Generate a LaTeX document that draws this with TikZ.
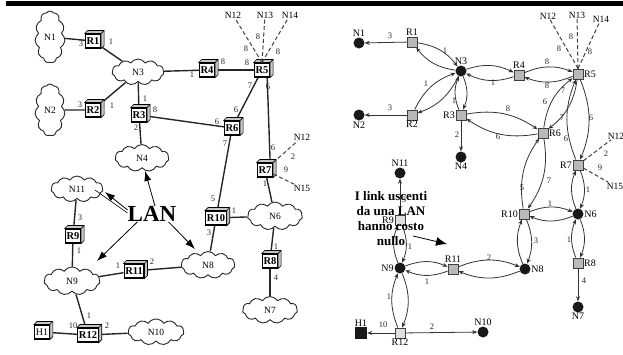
\documentclass[tikz,border=0pt]{standalone}
\usepackage{fontspec}
\setmainfont{Liberation Serif}
\usetikzlibrary{shapes.symbols,arrows.meta,calc,backgrounds}
\newcommand\cubeit[1]{%
  \draw[line width=0.6pt, fill=gray!45] (#1.north west) -- ++(3,-3) -- ($(#1.north east)+(3,-3)$) -- ($(#1.south east)+(3,-3)$) -- (#1.south east) -- (#1.north east) -- cycle;
  \draw[line width=0.6pt] (#1.north east) -- ++(3,-3);}
\newcommand\lb[3]{\node[lbl] (#1) at (#2) {#3};}
\begin{document}
\begin{tikzpicture}[x=1pt,y=-1pt,
  cl/.style={cloud, cloud puffs=11, cloud puff arc=115, cloud ignores aspect, draw=black!85, line width=0.9pt, fill=white, inner sep=0pt, font=\fontsize{9.5}{10}\selectfont},
  rt/.style={draw=black, line width=1.1pt, fill=white, font=\bfseries\fontsize{10.5}{11}\selectfont, inner sep=1.2pt, minimum height=14pt, minimum width=14pt},
  ln/.style={line width=1.4pt, draw=black!85},
  dl/.style={line width=1pt, draw=black!75, dash pattern=on 4pt off 2.5pt},
  lbl/.style={font=\fontsize{8.5}{9}\selectfont, inner sep=0pt, text=black!85},
  nl/.style={font=\fontsize{9.5}{10}\selectfont, inner sep=0.5pt},
  lanarr/.style={-{Latex[length=10pt,width=7pt]}, line width=0.8pt},
  dot/.style={circle, fill=black!90, minimum size=11pt, inner sep=0pt},
  sq/.style={rectangle, draw=black!75, fill=gray!55, minimum size=10pt, inner sep=0pt, line width=0.9pt},
  rl/.style={font=\fontsize{10}{10}\selectfont, inner sep=0.5pt},
  arr/.style={-{Stealth[length=5pt,width=4pt]}, line width=0.8pt, draw=black!80},
  bd/.style={arr, bend left=22},
]
\useasboundingbox (0,0) rectangle (623,354);
\fill (6,1) rectangle (623,6);

% ---------------- LEFT ----------------
\node[cl, minimum width=30pt, minimum height=52pt] (N1) at (50,37) {N1};
\node[cl, minimum width=30pt, minimum height=52pt] (N2) at (50,110) {N2};
\node[cl, minimum width=52pt, minimum height=26pt] (N3) at (138,72) {N3};
\node[cl, minimum width=54pt, minimum height=27pt] (N4) at (142,158) {N4};
\node[cl, minimum width=52pt, minimum height=26pt] (N11) at (77,189) {N11};
\node[cl, minimum width=56pt, minimum height=28pt] (N9) at (72,281) {N9};
\node[cl, minimum width=54pt, minimum height=27pt] (N8) at (208,265) {N8};
\node[cl, minimum width=55pt, minimum height=28pt] (N6) at (275,216) {N6};
\node[cl, minimum width=55pt, minimum height=27pt] (N7) at (270,310) {N7};
\node[cl, minimum width=56pt, minimum height=26pt] (N10) at (156,332) {N10};

\node[rt] (R1) at (93,41) {R1};
\node[rt] (R2) at (93,110) {R2};
\node[rt] (R3) at (139,115) {R3};
\node[rt] (R4) at (207,70) {R4};
\node[rt] (R5) at (262,70) {R5};
\node[rt] (R6) at (232,128) {R6};
\node[rt] (R7) at (265,170) {R7};
\node[rt] (R10) at (216,218) {R10};
\node[rt] (R8) at (270,261) {R8};
\node[rt] (R9) at (73,236) {R9};
\node[rt] (R11) at (134,271) {R11};
\node[rt] (R12) at (88,335) {R12};
\node[rt, font=\fontsize{10}{11}\selectfont] (H1) at (42,332) {H1};
\foreach \r in {R1,R2,R3,R4,R5,R6,R7,R10,R8,R9,R11,R12,H1} {\cubeit{\r}}

\begin{scope}[on background layer]
\draw[ln] (N1) -- (R1); \draw[ln] (R1) -- (N3);
\draw[ln] (N2) -- (R2); \draw[ln] (R2) -- (N3);
\draw[ln] (N3) -- (R3); \draw[ln] (R3) -- (N4);
\draw[ln] (N3) -- (R4); \draw[ln] (R4) -- (R5);
\draw[ln] (R3) -- (R6); \draw[ln] (R5) -- (R6);
\draw[ln] (R5.south east) ++(-3,0) -- (R7.north east -| R5.south east);
\draw[ln] (R6) -- (R10); \draw[ln] (R7) -- (N6);
\draw[ln] (R10) -- (N6); \draw[ln] (R10) -- (N8);
\draw[ln] (N6) -- (R8); \draw[ln] (R8) -- (N7);
\draw[ln] (N11) -- (R9); \draw[ln] (R9) -- (N9);
\draw[ln] (N9) -- (R11); \draw[ln] (R11) -- (N8);
\draw[ln] (N9) -- (R12); \draw[ln] (H1) -- (R12); \draw[ln] (R12) -- (N10);
\end{scope}

\node[nl] (lN12) at (233,15) {N12};
\node[nl] (lN13) at (265,15) {N13};
\node[nl] (lN14) at (290,15) {N14};
\node[nl] (lN12b) at (302,137) {N12};
\node[nl] (lN15) at (302,188) {N15};
\draw[dl] (R5.north) -- (lN12);
\draw[dl] (R5.north) -- (lN13);
\draw[dl] (R5.north) -- (lN14);
\draw[dl] (R7) -- (lN12b);
\draw[dl] (R7) -- (lN15);

\lb{a1}{81,44}{3} \lb{a2}{111,42}{1} \lb{a3}{80,105}{3} \lb{a4}{112,106}{1}
\lb{a5}{145,99}{1} \lb{a6}{155,110}{8} \lb{a7}{136,128}{2} \lb{a8}{192,75}{1}
\lb{a9}{223,62}{8} \lb{a10}{247,63}{8} \lb{a11}{250,86}{7} \lb{a12}{268,87}{6}
\lb{a13}{246,49}{8} \lb{a14}{258,37}{8} \lb{a15}{278,52}{8} \lb{a16}{236,110}{6}
\lb{a17}{217,122}{6} \lb{a18}{225,144}{7} \lb{a19}{273,148}{6} \lb{a20}{293,157}{2}
\lb{a21}{286,170}{9} \lb{a22}{265,184}{1} \lb{a23}{213,199}{5} \lb{a24}{234,211}{1}
\lb{a25}{209,233}{3} \lb{a26}{276,247}{1} \lb{a27}{276,278}{4} \lb{a28}{80,218}{3}
\lb{a29}{79,251}{1} \lb{a30}{118,266}{1} \lb{a31}{152,262}{2} \lb{a32}{89,316}{1}
\lb{a33}{73,326}{10} \lb{a34}{107,326}{2}

\node[font=\bfseries\fontsize{23}{23}\selectfont, inner sep=0pt] (LAN) at (152,214) {LAN};
\coordinate (cN4) at (145,171);
\coordinate (cN11) at (105,192);
\coordinate (cN11b) at (95,190);
\coordinate (cN9) at (97,261);
\coordinate (cN8) at (195,249);
\draw[lanarr] (LAN.north) ++(3,0) -- (cN4);
\draw[lanarr] (LAN.west) ++(0,-4) -- (cN11);
\draw[line width=0.6pt] (LAN.west) ++(0,-1) -- (cN11b);
\draw[lanarr] (LAN.south west) ++(10,0) -- (cN9);
\draw[lanarr] (LAN.south east) ++(-8,0) -- (cN8);

% ---------------- RIGHT ----------------
\node[dot, label={[rl]above:N1}] (M1) at (359,43) {};
\node[dot, label={[rl]below:N2}] (M2) at (359,115) {};
\node[dot, label={[rl]above:N3}] (M3) at (461,71) {};
\node[dot, label={[rl]below:N4}] (M4) at (461,157) {};
\node[dot, label={[rl]above:N11}] (M11) at (400,173) {};
\node[dot, label={[rl]left:N9}] (M9) at (400,268) {};
\node[dot, label={[rl]right:N8}] (M8) at (525,269) {};
\node[dot, label={[rl]right:N6}] (M6) at (578,214) {};
\node[dot, label={[rl]below:N7}] (M7) at (578,307) {};
\node[dot, label={[rl]above:N10}] (M10) at (483,332) {};
\node[sq, label={[rl]above:R1}] (S1) at (412,42) {};
\node[sq, label={[rl]below:R2}] (S2) at (412,115) {};
\node[sq, label={[rl]left:R3}] (S3) at (461,115) {};
\node[sq, label={[rl]above:R4}] (S4) at (519,75) {};
\node[sq, label={[rl]right:R5}] (S5) at (578,74) {};
\node[sq, label={[rl]right:R6}] (S6) at (543,133) {};
\node[sq, label={[rl]left:R7}] (S7) at (578,165) {};
\node[sq, label={[rl]left:R10}] (S10) at (524,214) {};
\node[sq, label={[rl]right:R8}] (S8) at (578,263) {};
\node[sq, label={[rl]above:R11}] (S11) at (453,269) {};
\node[sq, fill=gray!25, label={[rl]left:R9}] (S9) at (400,220) {};
\node[sq, fill=gray!25, label={[rl]below:R12}] (S12) at (400,333) {};
\node[rectangle, fill=black!90, minimum size=12pt, inner sep=0pt, label={[rl]above:H1}] (H1r) at (361,333) {};

\draw[arr] (S1) -- (M1);
\draw[arr] (S2) -- (M2);
\draw[arr] (S3) -- (M4);
\draw[arr] (S9) -- (M11);
\draw[arr] (S12) -- (H1r);
\draw[arr] (S12) -- (M10);
\draw[arr] (S8) -- (M7);
\foreach \a/\b in {S1/M3, M3/S2, M3/S3, M3/S4, S4/S5, S3/S6, S5/S6, S5/S7, S6/S10, S7/M6, S10/M6, M6/S8, S10/M8, S11/M8, M9/S11, M9/S9, M9/S12}
  {\draw[bd] (\a) to (\b); \draw[bd] (\b) to (\a);}

\node[nl] (rN12) at (548,16) {N12};
\node[nl] (rN13) at (577,15) {N13};
\node[nl] (rN14) at (601,19) {N14};
\node[nl] (rN12b) at (616,136) {N12};
\node[nl] (rN15) at (615,186) {N15};
\draw[dl] (S5.north) -- (rN12);
\draw[dl] (S5.north) -- (rN13);
\draw[dl] (S5.north) -- (rN14);
\draw[dl] (S7) -- (rN12b);
\draw[dl] (S7) -- (rN15);

\lb{b1}{390,36}{3} \lb{b2}{445,51}{1} \lb{b3}{390,108}{3} \lb{b4}{426,84}{1}
\lb{b5}{454,101}{1} \lb{b6}{457,135}{2} \lb{b7}{493,83}{1} \lb{b8}{547,62}{8}
\lb{b9}{547,86}{8} \lb{b10}{559,49}{8} \lb{b11}{571,37}{8} \lb{b12}{590,52}{8}
\lb{b13}{508,109}{8} \lb{b14}{498,137}{6} \lb{b15}{545,102}{6} \lb{b16}{563,91}{7}
\lb{b17}{562,118}{7} \lb{b18}{566,139}{6} \lb{b19}{591,118}{6} \lb{b20}{606,154}{2}
\lb{b21}{600,168}{9} \lb{b22}{522,188}{5} \lb{b23}{549,181}{7} \lb{b24}{588,190}{1}
\lb{b25}{550,204}{1} \lb{b26}{569,240}{1} \lb{b27}{584,281}{4} \lb{b28}{536,241}{3}
\lb{b29}{489,258}{2} \lb{b30}{427,282}{1} \lb{b31}{410,247}{1} \lb{b32}{404,200}{3}
\lb{b33}{389,297}{1} \lb{b34}{383,325}{10} \lb{b35}{432,327}{2}

\node[font=\bfseries\fontsize{13}{15}\selectfont, align=center, inner sep=0pt] (TX) at (391,218.5) {I link uscenti\\da una LAN\\hanno costo\\nullo};
\coordinate (TA) at (447,244);
\draw[-{Latex[length=11pt,width=9pt]}, line width=0.8pt] (413,236) -- (TA);
\end{tikzpicture}
\end{document}
